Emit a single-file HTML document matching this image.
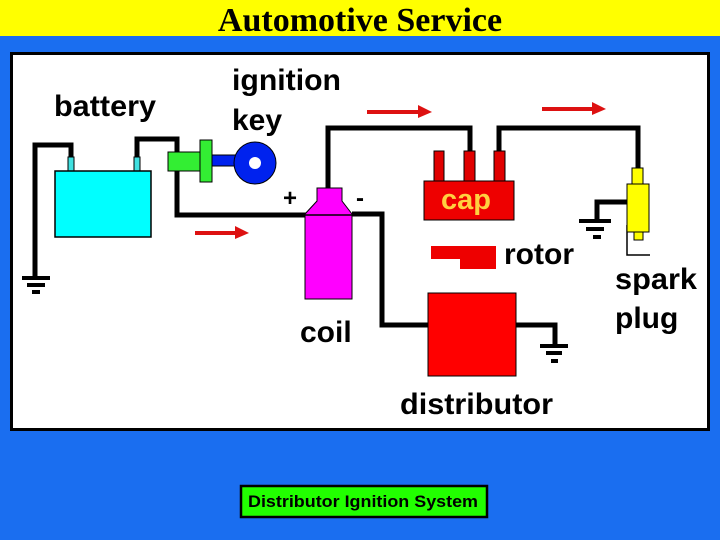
<!DOCTYPE html>
<html><head><style>
html,body{margin:0;padding:0;width:720px;height:540px;overflow:hidden;background:#1a6ef0;}
svg{display:block;}
</style></head><body>
<svg width="720" height="540" xmlns="http://www.w3.org/2000/svg">
<rect x="0" y="0" width="720" height="540" fill="#1a6ef0"/>
<rect x="0" y="0" width="720" height="36" fill="#ffff00"/>
<text x="360" y="31" text-anchor="middle" font-family="Liberation Serif, serif" font-weight="bold" font-size="34" fill="#000">Automotive Service</text>
<rect x="11.5" y="53.5" width="697" height="376" fill="#fff" stroke="#000" stroke-width="3"/>
<g font-family="Liberation Sans, sans-serif" font-weight="bold" font-size="30" fill="#000">
<text x="54" y="116" textLength="102" lengthAdjust="spacingAndGlyphs">battery</text>
<text x="232" y="90" textLength="109" lengthAdjust="spacingAndGlyphs">ignition</text>
<text x="232" y="130">key</text>
<text x="300" y="342">coil</text>
<text x="400" y="414" textLength="153" lengthAdjust="spacingAndGlyphs">distributor</text>
<text x="504" y="264">rotor</text>
<text x="615" y="289" textLength="82" lengthAdjust="spacingAndGlyphs">spark</text>
<text x="615" y="328">plug</text>
<text x="283" y="206" font-size="24">+</text>
<text x="356" y="206" font-size="24">-</text>
</g>
<g fill="none" stroke="#000" stroke-width="5">
<polyline points="71,158 71,145 35,145 35,277"/>
<polyline points="137,158 137,139 177,139 177,215 306,215"/>
<polyline points="328,190 328,128 470,128 470,152"/>
<polyline points="499,152 499,128 638,128 638,168"/>
<polyline points="352,214 382,214 382,325 428,325"/>
<polyline points="516,325 555,325 555,345"/>
<polyline points="627,202 597,202 597,220"/>
</g>
<g stroke="#000" stroke-width="4">
<line x1="22" y1="278" x2="50" y2="278"/><line x1="27" y1="285" x2="45" y2="285"/><line x1="32" y1="292" x2="40" y2="292"/>
<line x1="540" y1="346" x2="568" y2="346"/><line x1="546" y1="353" x2="562" y2="353"/><line x1="551" y1="361" x2="558" y2="361"/>
<line x1="579" y1="221" x2="611" y2="221"/><line x1="586" y1="229" x2="604" y2="229"/><line x1="593" y1="237" x2="601" y2="237"/>
</g>
<polyline points="627,225 627,255 650,255" fill="none" stroke="#000" stroke-width="1.5"/>
<rect x="68" y="157" width="6" height="15" fill="#40e0e0" stroke="#000" stroke-width="1"/>
<rect x="134" y="157" width="6" height="15" fill="#40e0e0" stroke="#000" stroke-width="1"/>
<rect x="55" y="171" width="96" height="66" fill="#00ffff" stroke="#000" stroke-width="1.5"/>
<rect x="168" y="152" width="33" height="19" fill="#33ee33" stroke="#000" stroke-width="1"/>
<rect x="200" y="140" width="12" height="42" fill="#33ee33" stroke="#000" stroke-width="1"/>
<rect x="212" y="155" width="25" height="11" fill="#0022ee" stroke="#000" stroke-width="1"/>
<circle cx="255" cy="163" r="21" fill="#0022ee" stroke="#000" stroke-width="1"/>
<circle cx="255" cy="163" r="6" fill="#fff"/>
<polygon points="317,188 342,188 342,201 352,214 352,299 305,299 305,214 317,201" fill="#ff00ff" stroke="#000" stroke-width="1"/>
<line x1="305" y1="215" x2="352" y2="215" stroke="#000" stroke-width="1.5"/>
<rect x="434" y="151" width="10" height="31" fill="#e00000" stroke="#000" stroke-width="1"/>
<rect x="464" y="151" width="11" height="31" fill="#e00000" stroke="#000" stroke-width="1"/>
<rect x="494" y="151" width="11" height="31" fill="#e00000" stroke="#000" stroke-width="1"/>
<rect x="424" y="181" width="90" height="39" fill="#ee0000" stroke="#000" stroke-width="1"/>
<text x="441" y="209" font-family="Liberation Sans, sans-serif" font-weight="bold" font-size="29" fill="#ffd040">cap</text>
<polygon points="431,246 496,246 496,269 460,269 460,259 431,259" fill="#ee0000"/>
<rect x="428" y="293" width="88" height="83" fill="#ff0000" stroke="#000" stroke-width="1"/>
<rect x="632" y="168" width="11" height="16" fill="#ffff00" stroke="#000" stroke-width="1"/>
<rect x="627" y="184" width="22" height="48" fill="#ffff00" stroke="#000" stroke-width="1"/>
<rect x="634" y="232" width="9" height="8" fill="#ffff00" stroke="#000" stroke-width="1"/>
<g stroke="#dd1111" stroke-width="4" fill="#dd1111">
<line x1="367" y1="112" x2="424" y2="112"/><polygon points="418,105 432,112 418,118" stroke="none"/>
<line x1="542" y1="109" x2="598" y2="109"/><polygon points="592,102 606,109 592,115" stroke="none"/>
<line x1="195" y1="233" x2="241" y2="233"/><polygon points="235,226 249,233 235,239" stroke="none"/>
</g>
<rect x="241" y="486" width="246" height="31" fill="#22ff00" stroke="#000" stroke-width="2.5"/>
<text x="363" y="507" text-anchor="middle" font-family="Liberation Sans, sans-serif" font-weight="bold" font-size="17" textLength="230" lengthAdjust="spacingAndGlyphs" fill="#000">Distributor Ignition System</text>
</svg>
</body></html>
